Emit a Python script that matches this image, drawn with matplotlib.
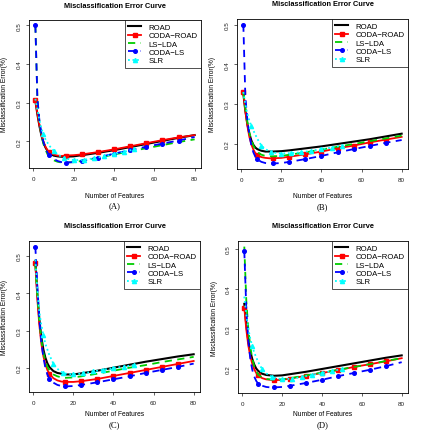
import matplotlib
matplotlib.use("Agg")
import matplotlib.pyplot as plt

plt.rcParams['font.family'] = ['Liberation Sans', 'DejaVu Sans']

# number of features used by the LDA type methods / by SLR
x_feat = [1, 2, 3, 4, 5, 6, 7, 8, 10, 12, 14, 16, 20, 24, 32, 40, 48, 56, 64, 72, 80]
x_slr = [1, 2, 3, 4, 5, 6, 8, 10, 12, 15, 20, 25, 30, 35, 40, 45, 50]

# panel (A)
road_a = [0.305, 0.270, 0.240, 0.215, 0.197, 0.184, 0.175, 0.169, 0.163, 0.161, 0.160,
          0.160, 0.161, 0.164, 0.170, 0.177, 0.185, 0.193, 0.201, 0.209, 0.216]
coda_road_a = [0.307, 0.272, 0.242, 0.217, 0.199, 0.186, 0.177, 0.171, 0.166, 0.163, 0.162,
               0.163, 0.164, 0.166, 0.172, 0.179, 0.187, 0.195, 0.203, 0.210, 0.216]
ls_lda_a = [0.500, 0.310, 0.250, 0.215, 0.193, 0.178, 0.167, 0.159, 0.151, 0.147, 0.145,
            0.145, 0.146, 0.149, 0.157, 0.166, 0.174, 0.182, 0.190, 0.198, 0.205]
coda_ls_a = [0.500, 0.312, 0.254, 0.220, 0.198, 0.182, 0.171, 0.164, 0.155, 0.149, 0.146,
             0.145, 0.146, 0.149, 0.158, 0.168, 0.177, 0.186, 0.194, 0.202, 0.211]
slr_a = [0.310, 0.282, 0.255, 0.233, 0.218, 0.205, 0.188, 0.176, 0.166, 0.157, 0.151,
         0.152, 0.156, 0.161, 0.167, 0.173, 0.179]

# panel (B)
road_b = [0.326, 0.283, 0.250, 0.225, 0.208, 0.197, 0.190, 0.186, 0.182, 0.180, 0.180,
          0.180, 0.181, 0.183, 0.188, 0.193, 0.199, 0.205, 0.211, 0.218, 0.225]
coda_road_b = [0.330, 0.283, 0.245, 0.217, 0.198, 0.185, 0.176, 0.171, 0.166, 0.164, 0.163,
               0.163, 0.164, 0.167, 0.173, 0.180, 0.188, 0.195, 0.203, 0.210, 0.217]
ls_lda_b = [0.330, 0.290, 0.255, 0.228, 0.209, 0.195, 0.185, 0.179, 0.172, 0.169, 0.168,
            0.168, 0.169, 0.172, 0.178, 0.185, 0.192, 0.199, 0.206, 0.213, 0.220]
coda_ls_b = [0.500, 0.320, 0.260, 0.222, 0.196, 0.178, 0.167, 0.160, 0.154, 0.151, 0.150,
             0.150, 0.151, 0.154, 0.161, 0.169, 0.178, 0.186, 0.194, 0.202, 0.209]
slr_b = [0.330, 0.300, 0.275, 0.258, 0.245, 0.233, 0.212, 0.195, 0.186, 0.178, 0.175,
         0.176, 0.178, 0.182, 0.186, 0.190, 0.195]

# panel (C)
road_c = [0.487, 0.400, 0.330, 0.283, 0.250, 0.228, 0.213, 0.203, 0.192, 0.187, 0.185,
          0.183, 0.183, 0.186, 0.193, 0.201, 0.209, 0.217, 0.224, 0.231, 0.237]
coda_road_c = [0.480, 0.385, 0.315, 0.265, 0.232, 0.210, 0.195, 0.185, 0.173, 0.167, 0.164,
               0.163, 0.163, 0.165, 0.171, 0.179, 0.187, 0.195, 0.203, 0.211, 0.219]
ls_lda_c = [0.480, 0.395, 0.325, 0.275, 0.242, 0.219, 0.204, 0.194, 0.183, 0.178, 0.175,
            0.174, 0.175, 0.178, 0.185, 0.193, 0.201, 0.208, 0.216, 0.223, 0.230]
coda_ls_c = [0.525, 0.420, 0.330, 0.270, 0.229, 0.201, 0.183, 0.172, 0.161, 0.155, 0.152,
             0.151, 0.152, 0.155, 0.162, 0.170, 0.178, 0.187, 0.195, 0.203, 0.212]
slr_c = [0.490, 0.410, 0.350, 0.315, 0.288, 0.265, 0.235, 0.212, 0.198, 0.186, 0.183,
         0.186, 0.191, 0.196, 0.200, 0.204, 0.208]

# panel (D)
road_d = [0.362, 0.310, 0.270, 0.243, 0.224, 0.210, 0.200, 0.194, 0.187, 0.184, 0.183,
          0.182, 0.183, 0.186, 0.192, 0.199, 0.206, 0.213, 0.220, 0.227, 0.233]
coda_road_d = [0.352, 0.298, 0.258, 0.231, 0.212, 0.198, 0.189, 0.183, 0.176, 0.173, 0.172,
               0.171, 0.172, 0.175, 0.182, 0.189, 0.196, 0.204, 0.211, 0.218, 0.226]
ls_lda_d = [0.505, 0.370, 0.300, 0.255, 0.225, 0.205, 0.193, 0.185, 0.177, 0.174, 0.173,
            0.172, 0.173, 0.176, 0.183, 0.190, 0.197, 0.204, 0.211, 0.219, 0.226]
coda_ls_d = [0.494, 0.350, 0.270, 0.225, 0.197, 0.180, 0.169, 0.162, 0.157, 0.154, 0.153,
             0.153, 0.154, 0.157, 0.164, 0.172, 0.181, 0.189, 0.197, 0.206, 0.216]
slr_d = [0.380, 0.335, 0.300, 0.275, 0.256, 0.240, 0.216, 0.198, 0.188, 0.179, 0.173,
         0.175, 0.179, 0.184, 0.189, 0.194, 0.199]

labels = ["ROAD", "CODA\u2212ROAD", "LS\u2212LDA", "CODA\u2212LS", "SLR"]
captions = ["(A)", "(B)", "(C)", "(D)"]

panels = [
    (road_a, coda_road_a, ls_lda_a, coda_ls_a, slr_a),
    (road_b, coda_road_b, ls_lda_b, coda_ls_b, slr_b),
    (road_c, coda_road_c, ls_lda_c, coda_ls_c, slr_c),
    (road_d, coda_road_d, ls_lda_d, coda_ls_d, slr_d),
]

# axes boxes in pixels: left, top, right, bottom
boxes = [(29, 21, 201, 169), (237, 20, 408, 170),
         (29, 242, 200, 393), (238, 242, 408, 394)]

W, H = 423, 431
fig = plt.figure(figsize=(W / 100, H / 100), dpi=100)

mk_feat = [i for i, v in enumerate(x_feat) if v == 1 or v % 8 == 0][:-1]
mk_slr = [i for i, v in enumerate(x_slr) if v % 5 == 0]

green = "#00CD00"

for k, (road, coda_road, ls_lda, coda_ls, slr) in enumerate(panels):
    l, t, r, b = boxes[k]
    ax = fig.add_axes([l / W, 1 - b / H, (r - l) / W, (b - t) / H])

    ax.plot(x_feat, road, color="black", lw=1.5, label=labels[0])
    ax.plot(x_feat, coda_road, color="red", lw=1.3, marker="s", ms=2.6,
            markevery=mk_feat, label=labels[1])
    ax.plot(x_feat, ls_lda, color=green, lw=1.3, ls=(0, (4, 3)), label=labels[2])
    ax.plot(x_feat, coda_ls, color="blue", lw=1.3, ls=(0, (4, 3)), marker="o", ms=2.6,
            markevery=mk_feat, label=labels[3])
    ax.plot(x_slr, slr, color="cyan", lw=1.3, ls=(0, (1, 1.5)), marker="^", ms=3,
            markevery=mk_slr, label=labels[4])

    ax.margins(x=0.04, y=0.04)
    ax.set_xticks([0, 20, 40, 60, 80])
    ax.set_yticks([0.2, 0.3, 0.4, 0.5])
    ax.set_yticklabels(["0.2", "0.3", "0.4", "0.5"], rotation=90, va="center")
    ax.tick_params(labelsize=4.5, length=2.5, width=0.5, pad=3, colors="#222222")
    for s in ax.spines.values():
        s.set_linewidth(0.6)
    ax.set_xlim(-2.16, 83.16)

    leg = ax.legend(loc="upper right", fontsize=5.6, frameon=True, fancybox=False,
                    borderaxespad=0, handlelength=1.7, handletextpad=0.9,
                    labelspacing=0.12, borderpad=0.45)
    leg.get_frame().set_edgecolor("black")
    leg.get_frame().set_linewidth(0.6)

    cx = (l + r) / 2
    fig.text(cx / W, 1 - (t - 15) / H, "Misclassification Error Curve",
             ha="center", va="center", fontsize=5.3, fontweight="bold")
    xl_y = min(b + 27, 415)
    fig.text(cx / W, 1 - xl_y / H, "Number of Features",
             ha="center", va="center", fontsize=4.8)
    cap_y = min(b + 37, 425.5)
    fig.text(cx / W, 1 - cap_y / H, captions[k], ha="center", va="center",
             fontsize=6.2, family=["Liberation Serif", "DejaVu Serif"])
    fig.text((l - 24) / W, 1 - ((t + b) / 2) / H, "Misclassification Error(%)",
             ha="center", va="center", rotation=90, fontsize=4.8)

fig.savefig("out.png", dpi=100)
